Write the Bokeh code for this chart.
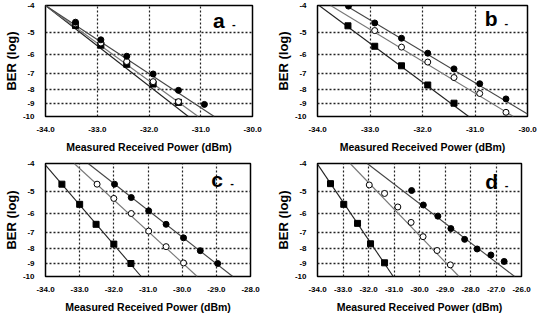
import numpy as np
from bokeh.plotting import figure
from bokeh.layouts import column, row
from bokeh.models import FixedTicker, CustomJSTickFormatter, PrintfTickFormatter, Range1d
from bokeh.core.properties import value
from bokeh.embed import file_html
from bokeh.resources import INLINE

# ---------------- data (x: received power dBm, y: log10 BER) ----------------
y_ticks = [-4, -5, -6, -7, -8, -9, -10]

# panel a
a_xrange = [-34.0, -30.0]
a_x_sq = [-33.42, -32.93, -32.43, -31.92, -31.43]
a_y_sq = [-4.72, -5.55, -6.50, -7.65, -8.90]
a_x_oc = [-33.42, -32.93, -32.43, -31.92, -31.43]
a_y_oc = [-4.65, -5.45, -6.35, -7.50, -8.85]
a_x_fc = [-33.42, -32.93, -32.43, -31.92, -31.43, -30.93]
a_y_fc = [-4.59, -5.31, -6.08, -7.04, -8.06, -9.05]
a_fit_sq = ([-34.0, -31.24], [-4.0, -10.0])
a_fit_oc = ([-34.0, -31.05], [-4.0, -10.0])
a_fit_fc = ([-34.0, -30.74], [-4.0, -10.0])

# panel b
b_xrange = [-34.0, -30.0]
b_x_sq = [-33.42, -32.91, -32.40, -31.90, -31.40]
b_y_sq = [-4.73, -5.60, -6.58, -7.71, -8.96]
b_x_oc = [-32.91, -32.40, -31.90, -31.40, -30.91, -30.41]
b_y_oc = [-4.92, -5.64, -6.38, -7.25, -8.27, -9.66]
b_x_fc = [-33.41, -32.91, -32.40, -31.90, -31.40, -30.91, -30.41]
b_y_fc = [-4.02, -4.62, -5.24, -5.93, -6.75, -7.63, -8.65]
b_fit_sq = ([-33.97, -31.12], [-4.0, -10.0])
b_fit_oc = ([-33.75, -30.27], [-4.0, -10.0])
b_fit_fc = ([-33.46, -30.00], [-4.0, -9.80])

# panel c
c_xrange = [-34.0, -28.0]
c_x_sq = [-33.52, -33.00, -32.52, -32.00, -31.50]
c_y_sq = [-4.73, -5.57, -6.55, -7.69, -9.00]
c_x_oc = [-32.49, -32.00, -31.49, -30.98, -30.47, -29.96]
c_y_oc = [-4.73, -5.31, -6.00, -6.92, -7.85, -8.96]
c_x_fc = [-31.98, -31.49, -30.98, -30.47, -29.96, -29.47, -28.96]
c_y_fc = [-4.73, -5.27, -5.87, -6.55, -7.31, -8.11, -9.00]
c_fit_sq = ([-34.0, -31.20], [-4.05, -10.0])
c_fit_oc = ([-33.16, -29.56], [-4.0, -10.0])
c_fit_fc = ([-32.75, -28.52], [-4.0, -10.0])

# panel d
d_xrange = [-34.0, -26.0]
d_x_sq = [-33.49, -32.97, -32.43, -31.92, -31.37]
d_y_sq = [-4.71, -5.57, -6.50, -7.67, -8.95]
d_x_oc = [-31.97, -31.37, -30.85, -30.33, -29.86, -29.31, -28.79]
d_y_oc = [-4.76, -5.10, -5.69, -6.45, -7.24, -8.10, -9.10]
d_x_fc = [-30.31, -29.85, -29.28, -28.77, -28.23, -27.74, -27.20, -26.68]
d_y_fc = [-4.98, -5.60, -6.13, -6.78, -7.40, -8.00, -8.40, -8.85]
d_fit_sq = ([-34.0, -31.03], [-4.02, -10.0])
d_fit_oc = ([-32.72, -28.45], [-4.0, -10.0])
d_fit_fc = ([-32.05, -26.27], [-4.0, -10.0])

letters = ["a", "b", "c", "d"]
letter_x = [-30.65, -30.69, -28.98, -27.17]
letter_y = [-4.52, -4.46, -4.55, -4.62]

FONT = "Liberation Sans"


def tr(e):
    # BER axis: equal spacing in -log10(-log10(BER))
    return -np.log10(-np.asarray(e, dtype=float))


def make_panel(xr, step, sq, oc, fc, fits, letter, lx, ly,
               left, right, top, bottom, fw, fh):
    p = figure(width=left + fw + right, height=top + fh + bottom,
               x_range=Range1d(xr[0], xr[1]),
               y_range=Range1d(float(tr(-10)), float(tr(-4))),
               output_backend="svg", toolbar_location=None,
               min_border_left=left, min_border_right=right,
               min_border_top=top, min_border_bottom=bottom)
    p.outline_line_color = "black"
    p.outline_line_width = 1.5

    xt = FixedTicker(ticks=[float(v) for v in np.arange(xr[0], xr[1] + 0.01, step)])
    yt = FixedTicker(ticks=[float(v) for v in tr(y_ticks)])
    p.xaxis.ticker = xt
    p.yaxis.ticker = yt
    p.xgrid.ticker = xt
    p.ygrid.ticker = yt
    p.xaxis.formatter = PrintfTickFormatter(format="%.1f")
    p.yaxis.formatter = CustomJSTickFormatter(
        code="return String(-Math.round(Math.pow(10, -tick)));")

    for ax in (p.xaxis, p.yaxis):
        ax.major_tick_line_color = None
        ax.minor_tick_line_color = None
        ax.axis_line_color = None
        ax.major_label_text_font = FONT
        ax.major_label_text_font_style = "bold"
        ax.major_label_text_font_size = "8px"
        ax.major_label_text_color = "black"
        ax.axis_label_text_font = FONT
        ax.axis_label_text_font_style = "bold"
        ax.axis_label_text_color = "black"
    p.xaxis.major_label_standoff = 4
    p.yaxis.major_label_standoff = 5
    p.xaxis.axis_label = "Measured Received Power (dBm)"
    p.xaxis.axis_label_text_font_size = "10.5px"
    p.xaxis.axis_label_standoff = 6
    p.yaxis.axis_label = "BER (log)"
    p.yaxis.axis_label_text_font_size = "13px"
    p.yaxis.axis_label_standoff = 1

    p.xgrid.grid_line_color = "#222222"
    p.xgrid.grid_line_dash = "2 2"
    p.xgrid.grid_line_width = 1.2
    p.ygrid.grid_line_color = "#222222"
    p.ygrid.grid_line_dash = "2 2"
    p.ygrid.grid_line_width = 1.3

    colors = ["#222222", "#777777", "#444444"]
    for (fx, fy), c in zip(fits, colors):
        p.line(fx, tr(fy), line_color=c, line_width=1.1)

    p.scatter(sq[0], tr(sq[1]), marker="square", size=6,
              fill_color="black", line_color="black")
    p.scatter(oc[0], tr(oc[1]), marker="circle", size=6,
              fill_color="white", line_color="black", line_width=1)
    p.scatter(fc[0], tr(fc[1]), marker="circle", size=6,
              fill_color="black", line_color="black")

    p.text([lx], [float(tr(ly))], text=[letter], text_font=value(FONT),
           text_font_style="bold", text_font_size="21px",
           text_align="center", text_baseline="middle", text_color="black")
    p.text([lx], [float(tr(ly))], text=["-"], text_font=value(FONT),
           text_font_style="bold", text_font_size="11px",
           text_align="center", text_baseline="middle", text_color="black",
           x_offset=15, y_offset=4)
    return p


pa = make_panel(a_xrange, 1.0, (a_x_sq, a_y_sq), (a_x_oc, a_y_oc),
                (a_x_fc, a_y_fc), [a_fit_sq, a_fit_oc, a_fit_fc],
                letters[0], letter_x[0], letter_y[0],
                37, 20, 5, 34, 215, 116)
pb = make_panel(b_xrange, 1.0, (b_x_sq, b_y_sq), (b_x_oc, b_y_oc),
                (b_x_fc, b_y_fc), [b_fit_sq, b_fit_oc, b_fit_fc],
                letters[1], letter_x[1], letter_y[1],
                40, 10, 5, 34, 215, 116)
pc = make_panel(c_xrange, 1.0, (c_x_sq, c_y_sq), (c_x_oc, c_y_oc),
                (c_x_fc, c_y_fc), [c_fit_sq, c_fit_oc, c_fit_fc],
                letters[2], letter_x[2], letter_y[2],
                36, 22, 8, 34, 214, 118)
pd = make_panel(d_xrange, 1.0, (d_x_sq, d_y_sq), (d_x_oc, d_y_oc),
                (d_x_fc, d_y_fc), [d_fit_sq, d_fit_oc, d_fit_fc],
                letters[3], letter_x[3], letter_y[3],
                41, 16, 8, 34, 208, 118)

layout = column(row(pa, pb), row(pc, pd))
open("out.html", "w").write(file_html(layout, INLINE))
